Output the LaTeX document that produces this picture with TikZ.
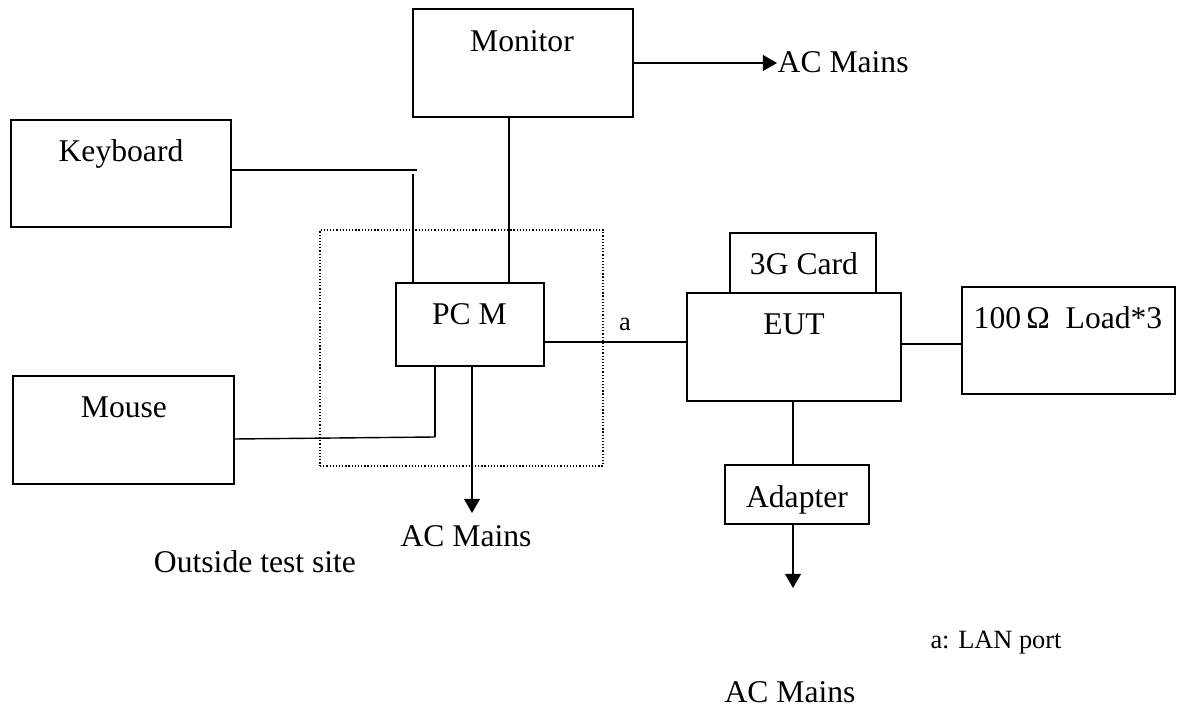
\documentclass[tikz,border=0pt]{standalone}
\usepackage{fontspec}
\setmainfont{Liberation Serif}
\usetikzlibrary{arrows.meta}

\begin{document}
\begin{tikzpicture}[x=0.02cm, y=-0.02cm, line width=0.8pt,
    box/.style={draw, inner sep=0pt},
    lbl/.style={inner sep=0pt, anchor=base, font=\fontsize{18}{21}\selectfont},
    note/.style={inner sep=0pt, anchor=base, font=\fontsize{15}{18}\selectfont},
    feed/.style={-{Triangle[length=8pt,width=9pt]}}]
    \useasboundingbox (0,0) rectangle (1197,709);

    \node[draw, line width=0.7pt, dash pattern=on 0.7pt off 1.1pt, minimum width=5.66cm, minimum height=4.72cm] (site) at (461.5,348) {};

    \node[box, minimum width=4.4cm, minimum height=2.16cm] (mon) at (523,63) {};
    \node[box, minimum width=4.4cm, minimum height=2.14cm] (kbd) at (121,173.5) {};
    \node[box, minimum width=4.42cm, minimum height=2.16cm] (mouse) at (123.5,430) {};
    \node[box, minimum width=2.96cm, minimum height=1.66cm] (pcm) at (470,324.5) {};
    \node[box, minimum width=4.28cm, minimum height=2.16cm] (eut) at (794,347) {};
    \node[box, minimum width=2.92cm, minimum height=1.2cm] (card) at (803,263) {};
    \node[box, minimum width=4.26cm, minimum height=2.14cm] (load) at (1068.5,340.5) {};
    \node[box, minimum width=2.88cm, minimum height=1.18cm] (adp) at (797,494.5) {};

    \node[lbl] (mont) at (522,52) {Monitor};
    \node[lbl] (kbdt) at (121,162) {Keyboard};
    \node[lbl] (mouset) at (124,418) {Mouse};
    \node[lbl] (pcmt) at (469.5,325) {PC M};
    \node[lbl] (eutt) at (794,335) {EUT};
    \node[lbl] (cardt) at (804,275) {3G Card};
    \node[lbl] (loadt) at (1068,329) {100\,Ω\enspace Load*3};
    \node[lbl] (adpt) at (797,507) {Adapter};
    \node[lbl, anchor=base west] (acm1) at (777,73) {AC Mains};
    \node[lbl] (acm2) at (466,546) {AC Mains};
    \node[lbl] (acm3) at (790,702) {AC Mains};
    \node[lbl] (outside) at (255,572) {Outside test site};
    \node[note] (port) at (625,331) {a};
    \node[note] (legend) at (996,648) {a: LAN port};

    \coordinate (kbdbend) at (417,170);
    \coordinate (kbddrop) at (413,174);
    \coordinate (montap) at (509,283);
    \coordinate (mbend) at (435,437);
    \coordinate (mrow) at (0,439);
    \coordinate (lanrow) at (0,342);
    \coordinate (lrow) at (0,344);
    \coordinate (pctip) at (472,513);
    \coordinate (adtip) at (793,588);

    \draw[feed] (mon.east) to (mon.east -| acm1.west);
    \draw (mon.south -| montap) to (pcm.north -| montap);
    \draw (kbd.east |- kbdbend) to (kbdbend);
    \draw (kbddrop) to (pcm.north -| kbddrop);
    \draw (pcm.south -| mbend) to (mbend);
    \draw (mbend) to (mouse.east |- mrow);
    \draw[feed] (pcm.south -| pctip) to (pctip);
    \draw (pcm.east |- lanrow) to (eut.west |- lanrow);
    \draw (eut.east |- lrow) to (load.west |- lrow);
    \draw (eut.south -| adtip) to (adp.north -| adtip);
    \draw[feed] (adp.south -| adtip) to (adtip);
\end{tikzpicture}
\end{document}
